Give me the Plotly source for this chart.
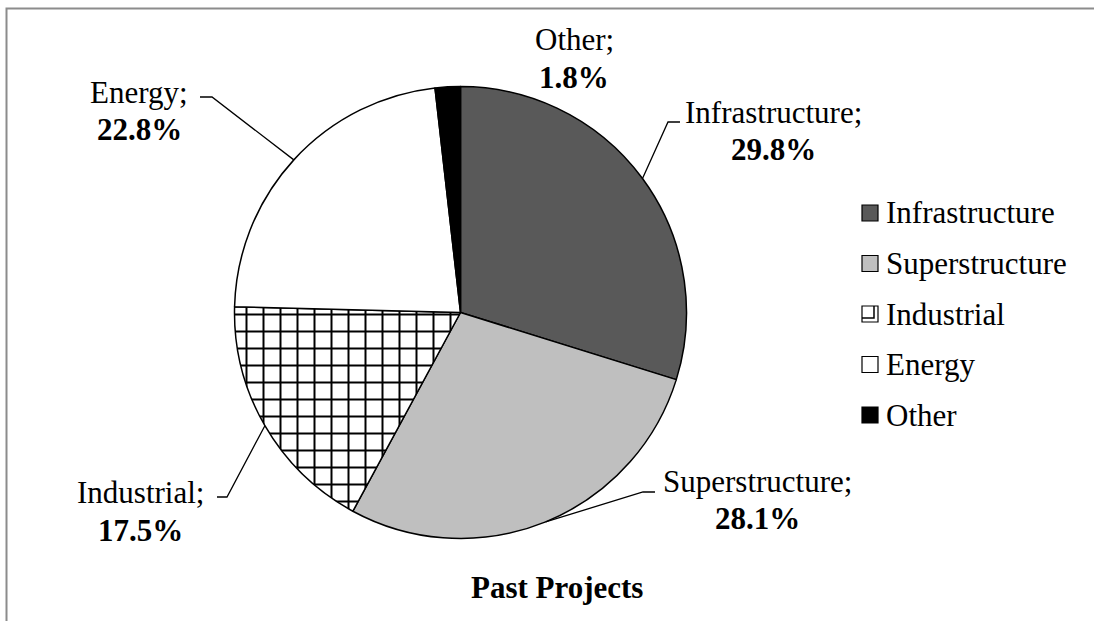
import math
import plotly.graph_objects as go

# données du graphique
labels = ['Infrastructure', 'Superstructure', 'Industrial', 'Energy', 'Other']
valeurs = [29.8, 28.1, 17.5, 22.8, 1.8]
couleurs = ['#595959', '#bfbfbf', 'white', 'white', 'black']
motifs = ['', '', '+', '', '']
titre = 'Past Projects'

W, H = 1094, 621
police = 'Liberation Serif, Times New Roman, serif'
taille = 31

# géométrie du camembert (pixels)
cx, cy, R = 460.5, 312.5, 226


def px(x):
    return x / W


def py(y):
    return 1 - y / H


fig = go.Figure()
fig.add_trace(go.Pie(labels=labels,
                     values=valeurs,
                     sort=False,
                     direction='clockwise',
                     rotation=0,
                     textinfo='none',
                     hoverinfo='label+percent',
                     showlegend=False,
                     marker=dict(colors=couleurs,
                                 line=dict(color='black', width=1.5),
                                 pattern=dict(shape=motifs, fgcolor='black',
                                              bgcolor='white', size=17,
                                              solidity=0.22)),
                     domain=dict(x=[px(cx - R), px(cx + R)],
                                 y=[py(cy + R), py(cy - R)]),
                     ))

# positions des étiquettes (centre x, ligne 1 y) et du coude des lignes de rappel
pos_etiquettes = {
    'Infrastructure': dict(x=773, y=112.5, coude=(668, 122), fin=(680, 122)),
    'Superstructure': dict(x=757, y=481, coude=(643, 492), fin=(655, 492)),
    'Industrial': dict(x=140, y=492.5, coude=(227, 497), fin=(217, 497)),
    'Energy': dict(x=139, y=92, coude=(212, 97), fin=(200, 97)),
    'Other': dict(x=574, y=39.5, coude=None, fin=None),
}

annotations = []
shapes = []
total = sum(valeurs)
cumul = 0
for lab, val in zip(labels, valeurs):
    milieu = (cumul + val / 2) / total
    cumul += val
    p = pos_etiquettes[lab]
    annotations.append(dict(xref='paper', yref='paper', x=px(p['x']), y=py(p['y']),
                            text=lab + ';', showarrow=False,
                            xanchor='center', yanchor='middle',
                            font=dict(family=police, size=taille, color='black')))
    annotations.append(dict(xref='paper', yref='paper', x=px(p['x']), y=py(p['y'] + 37.5),
                            text='<b>%.1f%%</b>' % (val / total * 100), showarrow=False,
                            xanchor='center', yanchor='middle',
                            font=dict(family=police, size=taille, color='black')))
    if p['coude'] is not None:
        ang = 2 * math.pi * milieu
        ex = cx + R * math.sin(ang)
        ey = cy - R * math.cos(ang)
        kx, ky = p['coude']
        fx, fy = p['fin']
        chemin = 'M %f %f L %f %f L %f %f' % (px(ex), py(ey), px(kx), py(ky), px(fx), py(fy))
        shapes.append(dict(type='path', xref='paper', yref='paper', path=chemin,
                           line=dict(color='black', width=1.3)))

# légende dessinée à la main (espacement comme l'original)
leg_x, leg_y, leg_pas, cote = 862, 213, 50.5, 16
for i, (lab, coul) in enumerate(zip(labels, couleurs)):
    yc = leg_y + i * leg_pas
    shapes.append(dict(type='rect', xref='paper', yref='paper',
                       x0=px(leg_x), x1=px(leg_x + cote),
                       y0=py(yc + cote / 2), y1=py(yc - cote / 2),
                       fillcolor=coul, line=dict(color='black', width=1.2)))
    if motifs[i] == '+':
        chemin = 'M %f %f L %f %f L %f %f' % (px(leg_x + cote - 4), py(yc - cote / 2),
                                              px(leg_x + cote - 4), py(yc + cote / 2 - 4),
                                              px(leg_x), py(yc + cote / 2 - 4))
        shapes.append(dict(type='path', xref='paper', yref='paper', path=chemin,
                           line=dict(color='black', width=1.5)))
    annotations.append(dict(xref='paper', yref='paper', x=px(leg_x + cote + 6), y=py(yc),
                            text=lab, showarrow=False, xanchor='left', yanchor='middle',
                            font=dict(family=police, size=taille, color='black')))

# titre
annotations.append(dict(xref='paper', yref='paper', x=px(557), y=py(587.5),
                        text='<b>' + titre + '</b>', showarrow=False,
                        xanchor='center', yanchor='middle',
                        font=dict(family=police, size=taille, color='black')))

# cadre gris (haut et gauche visibles)
shapes.append(dict(type='rect', xref='paper', yref='paper',
                   x0=px(6.5), x1=1.05, y0=-0.05, y1=py(8.5),
                   line=dict(color='#8c8c8c', width=2), layer='below'))

fig.update_layout(width=W, height=H,
                  margin=dict(l=0, r=0, t=0, b=0),
                  paper_bgcolor='white', plot_bgcolor='white',
                  annotations=annotations, shapes=shapes)

# pas de marge autour du graphique dans la page, pas de barre d'outils
fig.write_html('out.html',
               config=dict(displayModeBar=False),
               post_script="document.body.style.margin='0';")
